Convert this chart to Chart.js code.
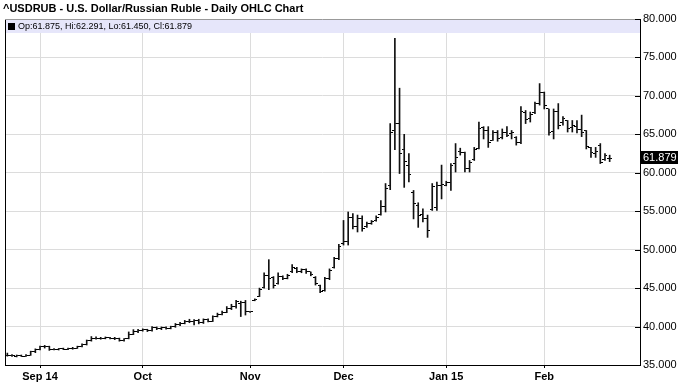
<!DOCTYPE html>
<html>
<head>
<meta charset="utf-8">
<script src="https://cdn.jsdelivr.net/npm/chart.js@4.4.1/dist/chart.umd.min.js"></script>
<style>
  html, body { margin: 0; padding: 0; background: #fff; }
  #chart { display: block; }
</style>
</head>
<body>
<canvas id="chart" width="680" height="386"></canvas>
<script>
// trading calendar: weekdays from first bar to last slot, minus holidays
const firstDay = '2014-08-21';
const lastSlot = '2015-03-02';
const holidays = ['2014-12-25', '2015-01-01'];
const monthNames = ['Jan', 'Feb', 'Mar', 'Apr', 'May', 'Jun', 'Jul', 'Aug', 'Sep', 'Oct', 'Nov', 'Dec'];

const opens = [
  36.30, 36.25, 36.15, 36.20, 36.15, 36.30, 36.75, 37.00, 37.35, 37.40,
  37.00, 37.05, 37.10, 37.05, 37.15, 37.20, 37.40, 37.65, 38.15, 38.50,
  38.45, 38.50, 38.55, 38.45, 38.40, 38.20, 38.40, 39.00, 39.35, 39.55,
  39.60, 39.45, 39.85, 39.70, 39.85, 39.80, 39.95, 40.30, 40.45, 40.70,
  40.60, 40.75, 40.50, 40.90, 40.70, 41.30, 41.60, 41.85, 42.40, 42.60,
  42.95, 43.10, 41.90, 43.35, 43.90, 45.05, 46.60, 46.40, 45.60, 46.50,
  46.30, 47.10, 47.60, 47.20, 47.40, 47.10, 46.40, 45.30, 44.70, 46.20,
  47.70, 48.80, 50.80, 51.00, 54.20, 53.00, 54.00, 53.00, 53.40, 53.80,
  54.60, 55.60, 58.40, 65.50, 66.40, 63.00, 61.00, 57.50, 55.80, 54.60,
  54.00, 55.20, 55.50, 58.30, 58.40, 58.80, 61.20, 62.80, 62.60, 60.50,
  61.70, 63.20, 65.90, 65.50, 64.20, 65.20, 64.60, 65.30, 65.10, 64.60,
  64.00, 67.80, 67.00, 67.80, 69.00, 70.50, 68.30, 65.40, 68.00, 66.50,
  66.80, 65.90, 66.00, 65.60, 65.50, 63.30, 62.50, 63.60, 61.70, 61.875
];
const highs = [
  36.55, 36.35, 36.30, 36.30, 36.35, 36.80, 37.10, 37.45, 37.55, 37.45,
  37.15, 37.15, 37.20, 37.20, 37.30, 37.45, 37.75, 38.25, 38.70, 38.65,
  38.60, 38.65, 38.60, 38.60, 38.50, 38.45, 39.30, 39.60, 39.65, 39.70,
  39.65, 40.00, 39.95, 39.95, 39.95, 40.05, 40.40, 40.55, 40.80, 40.95,
  40.90, 40.95, 41.00, 41.00, 41.40, 41.75, 42.00, 42.60, 42.90, 43.40,
  43.30, 43.40, 41.95, 43.60, 45.00, 47.00, 48.70, 46.50, 47.00, 46.60,
  46.80, 48.05, 47.70, 47.50, 47.50, 47.10, 46.50, 45.40, 46.40, 47.50,
  49.00, 50.70, 53.80, 54.90, 54.70, 54.50, 54.40, 53.60, 53.80, 54.40,
  56.40, 58.60, 66.40, 77.50, 71.00, 65.00, 62.50, 57.70, 56.10, 55.30,
  54.50, 58.60, 58.80, 61.00, 58.90, 61.20, 63.80, 63.20, 62.70, 61.60,
  63.30, 66.60, 66.00, 66.00, 65.50, 65.50, 65.70, 66.00, 65.50, 64.70,
  68.60, 68.10, 67.90, 69.20, 71.60, 70.50, 68.30, 68.30, 69.00, 67.30,
  66.80, 66.80, 66.80, 67.50, 65.50, 63.30, 63.30, 63.80, 62.50, 62.291
];
const lows = [
  36.15, 36.10, 36.05, 36.10, 36.10, 36.25, 36.60, 36.95, 37.20, 36.90,
  36.95, 36.95, 37.00, 37.00, 37.05, 37.15, 37.35, 37.60, 38.10, 38.35,
  38.35, 38.40, 38.40, 38.30, 38.10, 38.10, 38.40, 38.95, 39.20, 39.40,
  39.35, 39.40, 39.60, 39.60, 39.65, 39.70, 39.90, 40.10, 40.35, 40.50,
  40.20, 40.35, 40.40, 40.60, 40.65, 41.25, 41.50, 41.80, 42.20, 42.40,
  41.30, 41.50, 41.85, 43.35, 43.90, 45.00, 44.80, 45.00, 45.50, 46.10,
  46.20, 47.00, 47.00, 47.00, 46.90, 46.60, 45.40, 44.40, 44.60, 46.10,
  47.60, 48.70, 50.60, 50.60, 52.70, 52.30, 52.40, 52.90, 53.30, 53.70,
  54.50, 54.90, 57.80, 63.00, 59.90, 58.10, 58.80, 54.00, 52.90, 53.60,
  51.60, 55.10, 55.10, 56.60, 58.30, 57.70, 60.10, 62.30, 60.10, 60.10,
  61.60, 63.10, 64.40, 63.30, 64.20, 64.10, 64.40, 64.70, 64.40, 63.60,
  63.80, 66.40, 66.60, 67.70, 68.80, 68.30, 64.90, 64.40, 65.70, 66.20,
  65.30, 65.30, 65.20, 64.70, 63.10, 62.00, 62.00, 61.20, 61.60, 61.450
];
const closes = [
  36.25, 36.20, 36.20, 36.15, 36.30, 36.75, 37.00, 37.35, 37.40, 37.00,
  37.05, 37.10, 37.05, 37.15, 37.20, 37.40, 37.65, 38.15, 38.50, 38.45,
  38.50, 38.55, 38.45, 38.50, 38.20, 38.40, 39.00, 39.35, 39.55, 39.60,
  39.45, 39.85, 39.70, 39.85, 39.80, 39.95, 40.30, 40.45, 40.70, 40.60,
  40.75, 40.50, 40.90, 40.70, 41.30, 41.60, 41.85, 42.40, 42.60, 43.20,
  43.10, 41.90, 41.90, 43.55, 44.80, 46.60, 46.20, 45.30, 46.50, 46.30,
  46.60, 47.70, 47.20, 47.40, 47.10, 46.80, 45.60, 44.60, 46.20, 47.30,
  48.80, 50.40, 51.00, 54.20, 53.00, 54.00, 52.70, 53.40, 53.70, 54.20,
  55.60, 58.00, 65.20, 66.40, 62.50, 61.50, 59.80, 56.00, 54.50, 54.00,
  52.50, 58.20, 58.30, 58.50, 58.80, 61.00, 62.00, 62.60, 60.50, 61.40,
  63.00, 65.80, 65.50, 64.00, 65.20, 64.50, 65.30, 64.90, 65.20, 64.00,
  68.00, 66.90, 67.60, 69.00, 70.50, 68.80, 65.20, 68.00, 66.20, 67.00,
  65.80, 66.20, 65.60, 65.20, 63.40, 62.60, 62.80, 61.40, 62.20, 61.879
];
const yTicks = [35, 40, 45, 50, 55, 60, 65, 70, 75, 80];

const titleText = '^USDRUB - U.S. Dollar/Russian Ruble - Daily OHLC Chart';
const FONT = '"Liberation Sans", Arial, sans-serif';

// build category labels (one per trading day, plus empty slots at the right)
const labels = [];
for (let d = new Date(firstDay + 'T00:00:00Z'); d <= new Date(lastSlot + 'T00:00:00Z'); d.setUTCDate(d.getUTCDate() + 1)) {
  const s = d.toISOString().slice(0, 10);
  const wd = d.getUTCDay();
  if (wd === 0 || wd === 6 || holidays.includes(s)) continue;
  labels.push(s);
}

// first trading day of each month (within the data) gets a tick
const monthStarts = [];
labels.forEach((s, i) => {
  if (i > 0 && i < closes.length && s.slice(5, 7) !== labels[i - 1].slice(5, 7)) monthStarts.push(i);
});

function tickMark(side) {
  const c = document.createElement('canvas');
  c.width = 5;
  c.height = 1;
  const g = c.getContext('2d');
  g.fillStyle = '#000';
  g.fillRect(side === 'left' ? 0 : 3, 0, 2, 1);
  return c;
}

const decor = {
  id: 'decor',
  beforeDraw(chart) {
    const ctx = chart.ctx;
    ctx.save();
    ctx.fillStyle = '#fff';
    ctx.fillRect(0, 0, chart.width, chart.height);
    ctx.restore();
  },
  beforeDatasetsDraw(chart) {
    const { ctx, chartArea: a } = chart;
    ctx.save();
    ctx.fillStyle = '#e6e6fa';
    ctx.fillRect(a.left, a.top, a.right - a.left, 14);
    ctx.restore();
  },
  afterDraw(chart) {
    const { ctx, chartArea: a } = chart;
    const y = chart.scales.y;
    ctx.save();
    // title
    ctx.fillStyle = '#000';
    ctx.font = 'bold 11px ' + FONT;
    ctx.textBaseline = 'middle';
    ctx.fillText(titleText, 3, 9);
    // frame
    ctx.strokeStyle = '#000';
    ctx.lineWidth = 1;
    ctx.beginPath();
    ctx.moveTo(a.left + 0.5, a.top);
    ctx.lineTo(a.left + 0.5, a.bottom);
    ctx.stroke();
    ctx.strokeStyle = '#999';
    ctx.beginPath();
    ctx.moveTo(a.left, a.top + 0.5);
    ctx.lineTo(a.right, a.top + 0.5);
    ctx.stroke();
    // inner y ticks
    ctx.strokeStyle = '#000';
    y.ticks.forEach(t => {
      const py = Math.round(y.getPixelForValue(t.value)) + 0.5;
      ctx.beginPath();
      ctx.moveTo(a.right - 5, py);
      ctx.lineTo(a.right, py);
      ctx.stroke();
    });
    // legend line
    ctx.fillStyle = '#000';
    ctx.fillRect(a.left + 3, a.top + 4, 7, 7);
    ctx.font = '9px ' + FONT;
    const n = closes.length - 1;
    const legend = 'Op:' + opens[n].toFixed(3) + ', Hi:' + highs[n].toFixed(3) +
      ', Lo:' + lows[n].toFixed(3) + ', Cl:' + closes[n].toFixed(3);
    ctx.fillText(legend, a.left + 13, a.top + 8);
    // last price box
    const ly = Math.round(y.getPixelForValue(closes[n]));
    ctx.fillRect(a.right + 1, ly - 7, 37, 13);
    ctx.fillStyle = '#fff';
    ctx.font = '11px ' + FONT;
    ctx.fillText(closes[n].toFixed(3), a.right + 3, ly);
    ctx.restore();
  }
};

new Chart(document.getElementById('chart'), {
  data: {
    labels: labels,
    datasets: [
      {
        type: 'bar',
        data: highs.map((h, i) => [lows[i], h]),
        backgroundColor: '#111',
        borderWidth: 0,
        barThickness: 1,
        order: 2
      },
      {
        type: 'line',
        data: opens,
        showLine: false,
        pointStyle: tickMark('left'),
        pointRadius: 3,
        order: 1
      },
      {
        type: 'line',
        data: closes,
        showLine: false,
        pointStyle: tickMark('right'),
        pointRadius: 3,
        order: 1
      }
    ]
  },
  options: {
    responsive: false,
    animation: false,
    devicePixelRatio: 1,
    layout: { padding: { left: 5, top: 19, right: 0, bottom: 0 } },
    plugins: { legend: { display: false }, tooltip: { enabled: false }, title: { display: false } },
    scales: {
      x: {
        type: 'category',
        offset: true,
        grid: { offset: false, color: '#dcdcdc', tickColor: '#000', tickLength: 3 },
        border: { color: '#000' },
        afterFit(scale) { scale.height = 21; },
        ticks: {
          autoSkip: false,
          maxRotation: 0,
          padding: 2,
          color: '#000',
          font: { family: FONT, size: 11, weight: 'bold' },
          callback(value, index) {
            const k = monthStarts.indexOf(index);
            if (k < 0) return null;
            const s = labels[index];
            const m = +s.slice(5, 7) - 1;
            return (k === 0 || m === 0) ? monthNames[m] + ' ' + s.slice(2, 4) : monthNames[m];
          }
        }
      },
      y: {
        position: 'right',
        min: 35,
        max: 80,
        afterFit(scale) { scale.width = 40; },
        afterBuildTicks(scale) { scale.ticks = yTicks.map(v => ({ value: v })); },
        grid: { color: '#dcdcdc', drawTicks: false },
        border: { color: '#000' },
        ticks: {
          padding: 3,
          color: '#000',
          font: { family: FONT, size: 11 },
          callback: v => v.toFixed(3)
        }
      }
    }
  },
  plugins: [decor]
});
</script>
</body>
</html>
